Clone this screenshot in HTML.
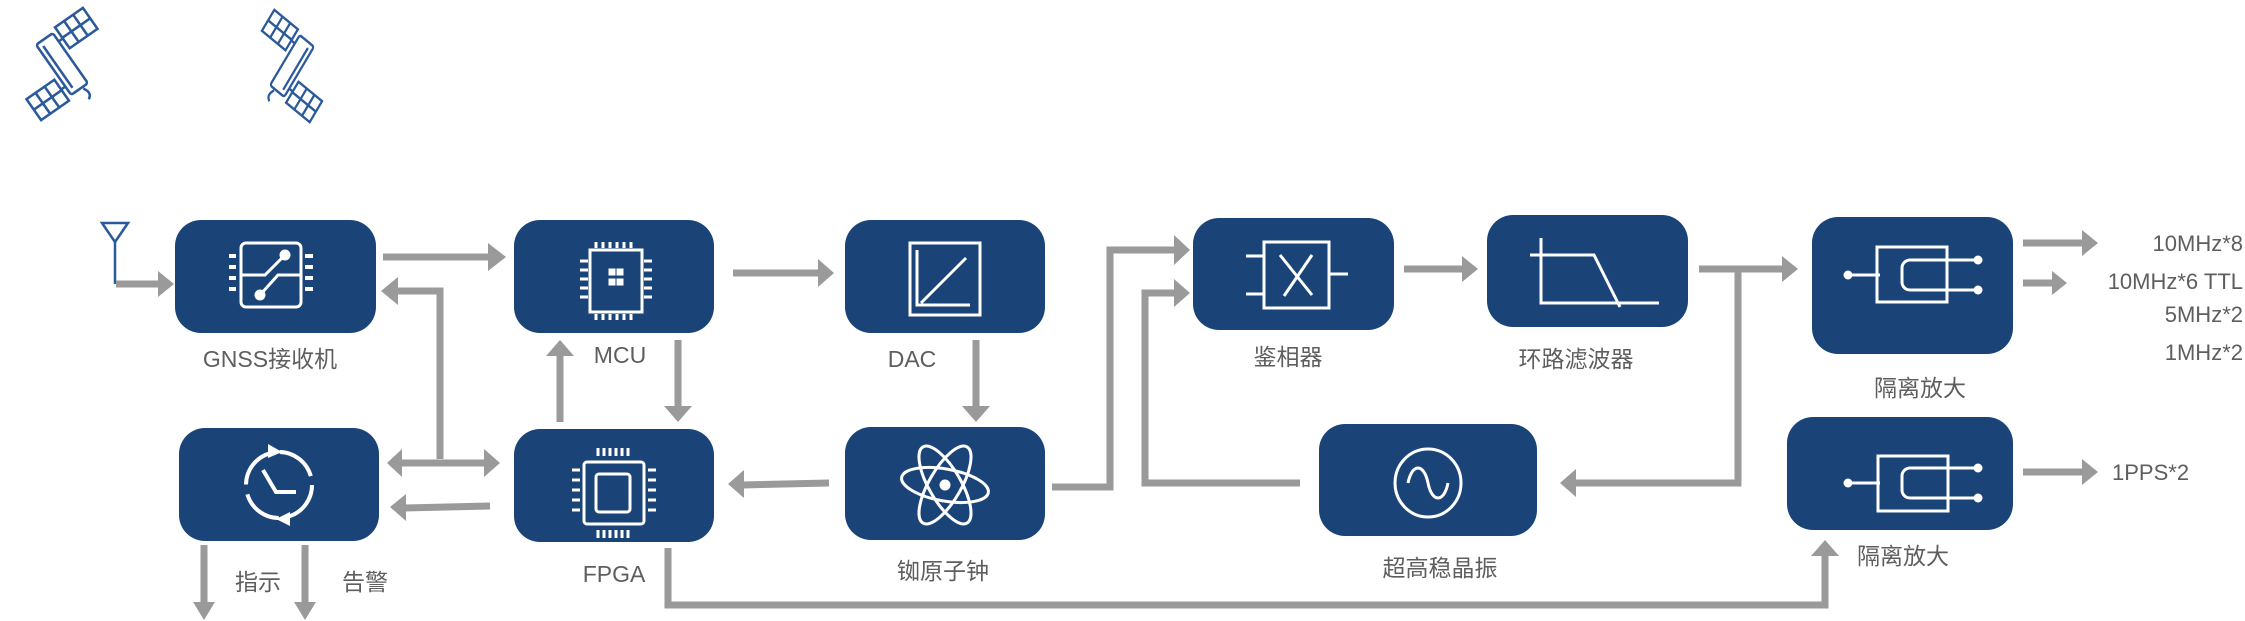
<!DOCTYPE html>
<html><head><meta charset="utf-8"><style>
html,body{margin:0;padding:0;background:#fff;}
svg{display:block}
text{font-family:"Liberation Sans","Noto Sans CJK SC",sans-serif;fill:#5e5e5e;}
</style></head><body>
<svg width="2245" height="621" viewBox="0 0 2245 621" xmlns="http://www.w3.org/2000/svg">
<defs>
<g id="sat" fill="none" stroke="#2b5a9a" stroke-width="3">
  <g transform="rotate(-35)">
    <rect x="-12" y="-36" width="24" height="72" rx="3"/>
    <line x1="-6" y1="-30" x2="-6" y2="30"/>
    <rect x="18" y="-40" width="40" height="30"/><line x1="18" y1="-25" x2="58" y2="-25"/><line x1="31" y1="-40" x2="31" y2="-10"/><line x1="44" y1="-40" x2="44" y2="-10"/>
    <rect x="-58" y="10" width="40" height="30"/><line x1="-58" y1="25" x2="-18" y2="25"/><line x1="-45" y1="10" x2="-45" y2="40"/><line x1="-32" y1="10" x2="-32" y2="40"/>
    <line x1="12" y1="-24" x2="18" y2="-24"/><line x1="-12" y1="24" x2="-18" y2="24"/>
    <path d="M4 38 q6 10 -2 14"/>
  </g>
</g>
</defs>
<g transform="translate(62,64) scale(0.85)"><use href="#sat"/></g>
<g transform="translate(292,66) scale(-0.72,0.85)"><use href="#sat"/></g>

<g fill="#1a4478">
<rect x="175" y="220" width="201" height="113" rx="26"/>
<rect x="514" y="220" width="200" height="113" rx="26"/>
<rect x="845" y="220" width="200" height="113" rx="26"/>
<rect x="179" y="428" width="200" height="113" rx="26"/>
<rect x="514" y="429" width="200" height="113" rx="26"/>
<rect x="845" y="427" width="200" height="113" rx="26"/>
<rect x="1193" y="218" width="201" height="112" rx="26"/>
<rect x="1487" y="215" width="201" height="112" rx="26"/>
<rect x="1812" y="217" width="201" height="137" rx="26"/>
<rect x="1787" y="417" width="226" height="113" rx="26"/>
<rect x="1319" y="424" width="218" height="112" rx="26"/>
</g>

<g fill="none" stroke="#fff" stroke-width="3">
  <rect x="241" y="243" width="60" height="64" rx="5"/>
  <g stroke-width="4"><line x1="229" y1="256" x2="236" y2="256"/><line x1="229" y1="267" x2="236" y2="267"/><line x1="229" y1="278" x2="236" y2="278"/><line x1="229" y1="289" x2="236" y2="289"/>
  <line x1="305" y1="256" x2="313" y2="256"/><line x1="305" y1="267" x2="313" y2="267"/><line x1="305" y1="278" x2="313" y2="278"/><line x1="305" y1="289" x2="313" y2="289"/></g>
  <polyline points="241,275 265,275 285,255"/><polyline points="301,275 278,275 260,295"/>
  <circle cx="285" cy="255" r="4" fill="#fff"/><circle cx="260" cy="295" r="4" fill="#fff"/>
  <rect x="590" y="250" width="52" height="62"/>
  <rect x="610" y="270" width="4" height="4" fill="#fff"/><rect x="618" y="270" width="4" height="4" fill="#fff"/><rect x="610" y="280" width="4" height="4" fill="#fff"/><rect x="618" y="280" width="4" height="4" fill="#fff"/>
  <path d="M596 242v6M603 242v6M610 242v6M617 242v6M624 242v6M631 242v6M596 314v6M603 314v6M610 314v6M617 314v6M624 314v6M631 314v6M580 261h8M580 270h8M580 279h8M580 288h8M580 297h8M644 261h8M644 270h8M644 279h8M644 288h8M644 297h8"/>
  <rect x="910" y="243" width="70" height="72"/>
  <polyline points="917,250 917,305 970,305"/><line x1="921" y1="303" x2="966" y2="258"/>
  <circle cx="279" cy="485" r="33" stroke-dasharray="42 10" stroke-width="4"/>
  <polygon points="268,444 282,452 268,458" fill="#fff" stroke="none"/>
  <polygon points="290,512 276,519 290,526" fill="#fff" stroke="none"/>
  <polyline points="263,470 276,492 296,492" stroke-width="4"/>
  <rect x="584" y="462" width="60" height="62" rx="3"/><rect x="596" y="474" width="34" height="38" rx="3"/>
  <path d="M598 448v8M604 448v8M610 448v8M616 448v8M622 448v8M628 448v8M598 530v8M604 530v8M610 530v8M616 530v8M622 530v8M628 530v8M572 470h8M572 480h8M572 490h8M572 500h8M572 510h8M648 470h8M648 480h8M648 490h8M648 500h8M648 510h8"/>
  <ellipse cx="945" cy="485" rx="44" ry="16" transform="rotate(60 945 485)"/>
  <ellipse cx="945" cy="485" rx="44" ry="16" transform="rotate(-60 945 485)"/>
  <ellipse cx="945" cy="485" rx="44" ry="16" transform="rotate(10 945 485)"/>
  <circle cx="945" cy="485" r="4" fill="#fff"/>
  <rect x="1264" y="242" width="65" height="66"/>
  <line x1="1246" y1="256" x2="1264" y2="256"/><line x1="1246" y1="294" x2="1264" y2="294"/><line x1="1329" y1="274" x2="1348" y2="274"/>
  <line x1="1280" y1="255" x2="1312" y2="295"/><line x1="1312" y1="255" x2="1284" y2="296"/>
  <polyline points="1541,238 1541,303 1659,303"/><polyline points="1530,255 1594,255 1620,307"/>
  <rect x="1877" y="247" width="70" height="55"/><line x1="1848" y1="275" x2="1880" y2="275"/>
  <path d="M1978 260H1910a8 8 0 0 0-8 8v14a8 8 0 0 0 8 8h68"/>
  <circle cx="1848" cy="275" r="3" fill="#fff"/><circle cx="1978" cy="260" r="3" fill="#fff"/><circle cx="1978" cy="290" r="3" fill="#fff"/>
  <rect x="1878" y="456" width="70" height="55"/><line x1="1848" y1="483" x2="1880" y2="483"/>
  <path d="M1978 468H1910a8 8 0 0 0-8 8v14a8 8 0 0 0 8 8h68"/>
  <circle cx="1848" cy="483" r="3" fill="#fff"/><circle cx="1978" cy="468" r="3" fill="#fff"/><circle cx="1978" cy="498" r="3" fill="#fff"/>
  <ellipse cx="1428" cy="483" rx="33" ry="34"/>
  <path d="M1408 483c4-20 16-20 20 0s16 20 20 0"/>
</g>

<g fill="none" stroke="#2b5a9a" stroke-width="2.5"><polygon points="102,223 128,223 115,242"/><line x1="115" y1="242" x2="115" y2="284"/></g>

<g fill="none" stroke="#9a9a9a" stroke-width="7">
  <polyline points="116,284 160,284"/>
  <line x1="383" y1="257" x2="490" y2="257"/>
  <polyline points="396,291 440,291 440,459"/>
  <line x1="400" y1="463" x2="486" y2="463"/>
  <line x1="490" y1="506" x2="404" y2="508"/>
  <line x1="560" y1="422" x2="560" y2="354"/>
  <line x1="678" y1="340" x2="678" y2="408"/>
  <line x1="733" y1="273" x2="820" y2="273"/>
  <line x1="976" y1="340" x2="976" y2="408"/>
  <line x1="829" y1="483" x2="742" y2="485"/>
  <polyline points="1052,487 1110,487 1110,250 1176,250"/>
  <polyline points="1300,483 1145,483 1145,293 1176,293"/>
  <line x1="1404" y1="269" x2="1464" y2="269"/>
  <line x1="1699" y1="269" x2="1784" y2="269"/>
  <polyline points="1738,269 1738,483 1574,483"/>
  <line x1="2023" y1="243" x2="2084" y2="243"/>
  <line x1="2023" y1="283" x2="2054" y2="283"/>
  <line x1="2023" y1="472" x2="2084" y2="472"/>
  <polyline points="668,548 668,605 1825,605 1825,554"/>
  <line x1="204" y1="545" x2="204" y2="604"/>
  <line x1="305" y1="545" x2="305" y2="604"/>
</g>
<g fill="#9a9a9a">
  <polygon points="158,271 174,284 158,297"/>
  <polygon points="488,243 506,257 488,271"/>
  <polygon points="398,277 381,291 398,305"/>
  <polygon points="402,449 387,463 402,477"/>
  <polygon points="484,449 500,463 484,477"/>
  <polygon points="406,494 390,507 406,521"/>
  <polygon points="546,356 560,340 574,356"/>
  <polygon points="664,406 678,422 692,406"/>
  <polygon points="818,259 834,273 818,287"/>
  <polygon points="962,406 976,422 990,406"/>
  <polygon points="744,470 728,484 744,498"/>
  <polygon points="1174,235 1190,250 1174,265"/>
  <polygon points="1174,279 1190,293 1174,307"/>
  <polygon points="1462,256 1478,269 1462,282"/>
  <polygon points="1782,256 1798,269 1782,282"/>
  <polygon points="1576,469 1560,483 1576,497"/>
  <polygon points="2082,230 2098,243 2082,256"/>
  <polygon points="2052,271 2067,283 2052,295"/>
  <polygon points="2082,459 2098,472 2082,485"/>
  <polygon points="1811,556 1825,540 1839,556"/>
  <polygon points="193,602 204,620 215,602"/>
  <polygon points="294,602 305,620 316,602"/>
</g>

<g font-size="23" text-anchor="middle">
  <text x="270" y="367">GNSS接收机</text>
  <text x="620" y="363">MCU</text>
  <text x="912" y="367">DAC</text>
  <text x="258" y="590">指示</text>
  <text x="365" y="590">告警</text>
  <text x="614" y="582">FPGA</text>
  <text x="943" y="579">铷原子钟</text>
  <text x="1288" y="365">鉴相器</text>
  <text x="1576" y="367">环路滤波器</text>
  <text x="1920" y="396">隔离放大</text>
  <text x="1440" y="576">超高稳晶振</text>
  <text x="1903" y="564">隔离放大</text>
</g>
<g font-size="22" text-anchor="end">
  <text x="2243" y="251">10MHz*8</text>
  <text x="2243" y="289">10MHz*6 TTL</text>
  <text x="2243" y="322">5MHz*2</text>
  <text x="2243" y="360">1MHz*2</text>
</g>
<text x="2112" y="480" font-size="22">1PPS*2</text>
</svg>
</body></html>
